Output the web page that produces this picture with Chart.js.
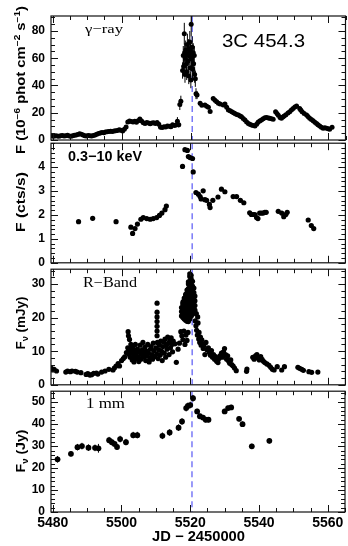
<!DOCTYPE html>
<html>
<head>
<meta charset="utf-8">
<script src="https://cdn.jsdelivr.net/npm/chart.js@4.4.1/dist/chart.umd.min.js"></script>
<style>
html, body { margin: 0; padding: 0; background: #fff; }
#wrap { position: relative; width: 348px; height: 546px; overflow: hidden; }
#wrap canvas { position: absolute; left: 0; }
</style>
</head>
<body>
<div id="wrap">
  <canvas id="gamma" width="348" height="160"></canvas>
  <canvas id="xray" width="348" height="146"></canvas>
  <canvas id="rband" width="348" height="142"></canvas>
  <canvas id="mm" width="348" height="168"></canvas>
</div>
<script>
// ---- data ----
const flareDay = 5520.5;
const xTickLabels = [5480, 5500, 5520, 5540, 5560];

// gamma-ray, 10^-6 phot cm^-2 s^-1
const gammaDays = [
  5479.8,5480.3,5480.8,5481.3,5481.8,5482.3,5482.8,5483.3,5483.8,5484.3,
  5484.8,5485.3,5485.8,5486.3,5486.8,5487.3,5487.8,5488.3,5488.8,5489.3,
  5489.8,5490.3,5490.8,5491.3,5491.8,5492.3,5492.8,5493.3,5493.8,5494.3,
  5494.8,5495.3,5495.8,5496.3,5496.8,5497.3,5497.8,5498.3,5498.8,5499.3,
  5499.8,5500.3,5500.8,5501.3,5501.8,5502.3,5502.8,5503.3,5503.8,5504.3,
  5504.8,5505.3,5505.8,5506.3,5506.8,5507.3,5507.8,5508.3,5508.8,5509.3,
  5509.8,5510.3,5510.8,5511.3,5511.8,5512.3,5512.8,5513.3,5513.8,5514.3,
  5514.8,5515.3,5515.8,
  5522.8,5523.3,5524.2,5524.7,5525.2,5525.7,5526.6,5527.1,5527.6,5528.1,
  5528.6,5529.5,5530.0,5530.5,5531.0,5531.5,5532.0,5532.5,5532.9,5533.4,
  5533.9,5534.4,5534.8,5535.3,5535.8,5536.3,5536.8,5537.2,5537.7,5538.2,
  5538.7,5539.2,5539.6,5540.1,5540.6,5541.1,5541.6,5542.1,5542.6,5543.0,
  5543.5,5544.0,5544.7,5545.1,5545.5,5546.0,5546.4,5546.8,5547.2,5547.7,
  5548.3,5548.8,5549.3,5549.8,5550.3,5550.8,5551.7,5552.0,5552.4,5553.0,
  5553.7,5554.1,5554.6,5555.1,5555.6,5556.1,5556.6,5557.0,5557.5,5558.0,
  5558.5,5559.0,5559.5,5560.0,5560.4,5561.1
];
const gammaFlux = [
  3.0,2.8,3.2,3.0,2.7,3.1,3.3,2.9,3.2,3.5,
  3.0,2.8,3.1,3.4,3.6,4.0,4.6,4.2,3.6,3.2,
  3.0,3.3,3.1,2.9,3.3,3.6,4.2,4.8,5.2,5.5,
  5.4,5.8,6.0,6.2,6.4,6.3,6.6,6.8,7.0,7.6,
  7.2,6.6,7.8,9.5,13.2,14.0,13.6,13.2,13.8,13.0,
  14.2,15.4,14.0,12.6,12.2,12.8,12.4,12.0,12.5,12.6,
  12.2,12.8,11.5,9.4,9.2,9.8,9.6,10.2,10.0,9.8,
  11.2,10.6,11.0,
  27,25.5,25.6,24.8,24,21,30.5,29.2,28,27,
  26.4,25.6,26.4,24,22,21.4,20.7,20,19.5,18.8,
  18.3,17.6,17,15.8,14.6,13.2,12.2,11.6,11,10.6,
  10.3,11.6,13,14,14.6,15.6,16.4,16.6,16.2,15.9,
  15.6,15.2,20.7,19.4,18.1,16.6,15.9,16.8,17.6,18.6,
  19.8,20.7,22,23.2,24.2,24.9,23.2,22,20.7,19.4,
  18.3,17.2,15.9,15,14.1,13,12.2,11.2,10.3,9.4,
  8.6,9,8.6,8.2,7.8,9.3
];
// flare points, drawn with their error bars
const flareDays = [
  5516.2,5516.6,5516.9,5517.2,5517.7,5517.9,5518.0,5518.2,5518.3,5518.4,
  5518.5,5518.6,5518.8,5518.9,5519.0,5519.1,5519.3,5519.4,5519.5,5519.6,
  5519.8,5519.9,5520.0,5520.1,5520.2,5520.3,5520.5,5520.6,5520.8,5520.9,
  5521.1,5521.2,5521.4,5521.6,5521.9
];
const flareFlux = [
  13.8,11.2,26.0,28.5,51,62,54,78,64,48,
  60,66,56,50,63,70,58,67,47,62,
  72,53,65,44,85,60,68,52,64,56,
  62,48,45,34,33
];
const flareErr = [
  3,2,4,4,6,7,6,8,7,6,
  7,7,6,6,7,8,7,7,6,7,
  8,6,7,6,9,7,8,7,7,7,
  7,6,6,4,3
];
const gammaTicks = [0, 20, 40, 60, 80];

// X-ray 0.3-10 keV, cts/s
const xrayDays = [
  5487.5,5491.6,5498.4,5502.7,5503.2,5503.9,5504.6,5505.6,5506.3,5507.3,
  5508.3,5509.2,5510.2,5511.0,5511.7,5512.6,5513.0,5517.7,5518.4,5519.1,
  5519.4,5519.9,5520.6,5520.8,5521.6,5522.3,5522.8,5523.1,5523.7,5524.2,
  5524.7,5525.5,5525.7,5526.5,5528.0,5529.0,5530.0,5532.4,5533.4,5534.5,
  5535.5,5537.2,5537.7,5538.2,5538.7,5539.2,5539.6,5540.1,5540.6,5541.1,
  5541.6,5542.0,5545.5,5546.5,5547.1,5547.7,5548.1,5554.2,5555.1,5555.8
];
const xrayRate = [
  1.72,1.86,1.72,1.49,1.23,1.43,1.62,1.82,1.89,1.85,
  1.82,1.85,1.89,1.98,2.08,2.22,2.37,4.03,4.73,4.70,
  4.44,4.40,4.36,3.80,2.94,2.87,2.77,2.67,3.01,2.64,
  2.61,2.44,2.31,2.61,2.75,3.08,2.97,2.77,2.77,2.61,
  2.51,2.09,2.02,2.02,2.02,1.89,1.85,2.08,2.08,2.08,
  2.11,2.11,2.15,2.08,1.93,2.02,2.11,1.79,1.56,1.43
];
const xrayTicks = [0, 1, 2, 3, 4];

// R band, mJy
const rDays = [
  5479.6,5480.0,5480.4,5481.1,5483.8,5484.3,5485.1,5485.6,5486.6,5487.1,
  5488.2,5489.7,5490.2,5490.8,5491.3,5491.9,5492.7,5493.1,5494.2,5495.2,
  5496.3,5497.5,5497.9,5498.4,5499.0,5499.4,
  5500.0,5500.5,5500.9,5501.4,5501.8,5501.9,5502.0,5502.3,5502.1,5502.2,
  5502.5,5502.7,5502.8,5503.0,5503.1,5503.3,5503.5,5503.6,5503.8,5504.0,
  5504.2,5504.3,5504.6,5504.8,5505.0,5505.2,5505.4,5505.6,5505.8,5506.0,
  5506.2,5506.4,5506.6,5506.8,5507.0,5507.2,5507.4,5507.6,5507.8,5508.0,
  5508.2,5508.4,5508.6,5508.8,5509.0,5509.2,5509.4,5509.6,
  5510.3,5510.3,5510.3,5510.3,5510.3,5510.3,5510.3,
  5510.0,5510.2,5510.4,5510.6,5510.8,5511.0,5511.2,5511.4,5511.6,5511.8,
  5512.0,5512.2,5512.4,5512.6,5512.8,5513.0,5513.2,5513.4,5513.6,5513.8,
  5514.0,5514.2,5514.4,5514.6,5514.8,5515.0,5515.5,5515.9,5516.4,5516.8,
  5517.2,5517.5,5517.8,5518.1,5518.4,5518.7,5519.0,5519.3,
  5517.4,5517.4,5517.4,
  5517.8,5517.8,5517.8,5517.8,5517.8,
  5518.2,5518.2,5518.2,5518.2,5518.2,5518.2,
  5518.6,5518.6,5518.6,5518.6,5518.6,5518.6,5518.6,
  5519.0,5519.0,5519.0,5519.0,5519.0,5519.0,5519.0,5519.0,
  5519.4,5519.4,5519.4,5519.4,5519.4,5519.4,5519.4,5519.4,5519.4,5519.4,
  5519.8,5519.8,5519.8,5519.8,5519.8,5519.8,5519.8,5519.8,5519.8,5519.8,5519.8,
  5520.2,5520.2,5520.2,5520.2,5520.2,5520.2,5520.2,5520.2,5520.2,5520.2,
  5520.6,5520.6,5520.6,5520.6,5520.6,5520.6,5520.6,5520.6,
  5521.0,5521.0,5521.0,5521.0,5521.0,5521.0,
  5521.3,5521.3,5521.3,5521.3,
  5521.4,5521.6,5521.7,5521.8,5522.0,5522.1,5522.2,5522.4,5522.5,5522.7,
  5522.9,5523.1,5523.3,5523.5,5523.7,5523.9,5524.2,5524.5,5524.8,5525.2,
  5525.5,5525.8,5526.1,5526.4,5526.7,5527.0,5527.3,5527.6,5528.0,5528.3,
  5528.6,5529.0,5529.3,5529.6,5529.9,5530.2,5530.5,5530.8,5531.1,5531.4,
  5531.7,5532.0,5532.4,5532.8,5533.3,5536.3,5536.4,5538.1,5538.5,5538.9,
  5539.3,5539.6,5540.0,5540.4,5540.8,5541.2,5541.6,5542.2,5542.8,5543.3,
  5543.8,5544.3,5545.2,5546.5,5547.3,5551.2,5551.7,5552.3,5552.8,5554.4,
  5555.2,5557.0
];
const rFlux = [
  4.9,4.4,4.6,4.1,3.8,4.1,3.9,4.1,4.0,3.8,
  3.6,3.1,3.3,2.9,3.0,3.4,3.5,3.2,3.8,4.1,
  4.6,4.4,5.0,5.6,6.3,5.6,
  7.2,7.8,8.3,9.6,11.0,15.8,14.6,13.5,10.2,9.0,
  8.2,12.0,10.8,9.6,7.4,11.2,8.6,6.8,10.0,12.0,
  9.2,7.8,10.6,8.4,6.9,9.8,11.8,7.6,9.0,10.4,
  12.6,8.2,9.6,11.2,7.2,10.0,8.6,12.0,9.4,6.8,
  8.0,10.6,11.4,9.0,7.6,12.4,10.2,8.4,
  24.3,21.6,20.2,18.8,17.4,16.0,14.6,
  11.0,9.2,12.6,7.8,10.4,11.8,8.8,13.0,10.0,7.2,
  11.4,12.8,9.4,13.6,8.2,11.8,10.6,14.2,12.4,9.0,
  13.2,11.0,14.0,12.0,9.8,13.0,12.2,6.7,10.6,12.4,
  15.8,14.6,13.4,16.0,12.0,14.8,13.2,15.6,
  20.5,21.8,23.0,
  20.0,21.3,22.6,24.0,24.6,
  19.6,21.0,22.4,23.8,25.2,25.8,
  19.2,20.6,22.0,23.4,24.8,26.2,26.9,
  18.9,20.3,21.7,23.1,24.5,25.9,27.3,28.2,
  18.8,20.2,21.6,23.0,24.4,25.8,27.2,28.6,30.0,30.6,
  19.6,21.0,22.4,23.8,25.2,26.6,28.0,29.4,30.8,32.2,33.0,
  20.4,21.8,23.2,24.6,26.0,27.4,28.8,30.2,31.6,32.6,
  21.0,22.4,23.8,25.2,26.6,28.0,29.4,30.8,
  21.8,23.2,24.6,26.0,27.4,28.8,
  22.2,23.6,25.0,26.4,
  19.0,17.6,21.2,16.2,14.8,20.2,18.4,13.6,15.6,12.6,
  14.2,11.8,13.4,12.2,10.8,11.6,9.0,12.6,10.4,11.0,
  9.6,8.8,10.2,8.2,9.0,7.6,8.4,7.0,6.6,7.8,
  8.6,9.4,8.2,9.8,10.8,9.0,7.6,8.6,7.0,6.4,
  7.4,6.0,5.6,5.0,4.2,4.0,4.7,8.2,7.6,8.6,
  9.0,8.0,7.4,8.4,7.6,7.0,6.6,6.2,5.8,5.2,
  4.6,4.4,5.4,4.4,5.4,5.2,4.9,4.6,4.3,3.9,
  3.7,3.8
];
const rTicks = [0, 10, 20, 30];

// 1 mm, Jy
const mmDays = [
  5481.4,5485.3,5487.2,5488.5,5490.4,5492.3,5493.3,5496.4,5497.2,5498.0,
  5498.7,5499.6,5501.3,5503.4,5504.6,5511.9,5514.0,5516.6,5517.6,5518.8,
  5519.3,5520.0,5520.8,5522.0,5522.8,5523.7,5524.5,5525.3,5530.0,5531.0,
  5531.9,5534.2,5535.2,5537.9,5543.0
];
const mmFlux = [
  24.0,26.5,29.5,30.0,29.3,29.2,29.0,32.7,31.8,31.0,
  29.6,33.2,31.8,35.0,35.0,34.7,36.2,38.4,41.2,47.3,
  48.3,48.7,51.8,45.8,43.6,43.0,42.0,42.0,45.8,47.3,
  47.6,42.4,40.0,29.9,32.4
];
const mmErr = [
  1.5,1.2,1.5,1.5,1.5,1.5,2.0,1.5,1.5,1.2,
  1.2,1.5,1.5,1.5,1.5,1.5,1.5,1.5,1.5,1.5,
  1.5,1.5,1.5,1.2,1.2,1.2,1.2,1.2,1.2,1.2,
  1.2,1.2,1.2,1.2,1.2
];
const mmTicks = [0, 10, 20, 30, 40, 50];

// ---- drawing ----
Chart.defaults.font.family = 'Liberation Sans';
Chart.defaults.color = '#000';

function onStep(v, step) {
  const r = v / step;
  return Math.abs(r - Math.round(r)) < 1e-6;
}
function hasValue(list, v) {
  return list.some(t => Math.abs(t - v) < 1e-6);
}

function drawText(ctx, L, yOff) {
  ctx.save();
  ctx.translate(L.x, L.y - yOff);
  if (L.rot) ctx.rotate(-Math.PI / 2);
  const fam = L.family || 'Liberation Sans';
  const wt = L.weight || 'normal';
  const parts = L.segs.map(([s, k]) => {
    const sz = k ? L.size * 0.68 : L.size;
    ctx.font = `${wt} ${sz}px "${fam}"`;
    return { s, k, sz, w: ctx.measureText(s).width };
  });
  const natural = parts.reduce((a, p) => a + p.w, 0);
  if (L.w) ctx.scale(L.w / natural, 1);
  let cx = L.center ? -natural / 2 : 0;
  ctx.fillStyle = '#000';
  ctx.textBaseline = 'alphabetic';
  ctx.textAlign = 'left';
  parts.forEach(p => {
    ctx.font = `${wt} ${p.sz}px "${fam}"`;
    const dy = p.k === 'sup' ? -L.size * 0.42 : p.k === 'sub' ? L.size * 0.28 : 0;
    ctx.fillText(p.s, cx, dy);
    cx += p.w;
  });
  ctx.restore();
}

const panelDeco = {
  id: 'panelDeco',
  beforeDatasetsDraw(chart, args, o) {
    const { ctx, chartArea: a, scales } = chart;
    ctx.save();
    ctx.beginPath();
    ctx.rect(a.left, a.top, a.right - a.left, a.bottom - a.top);
    ctx.clip();
    // vertical marker at the flare peak
    const fx = scales.x.getPixelForValue(flareDay);
    ctx.strokeStyle = 'rgba(95,95,245,0.9)';
    ctx.lineWidth = 1.4;
    ctx.setLineDash([6, 4]);
    ctx.beginPath();
    ctx.moveTo(fx, a.top);
    ctx.lineTo(fx, a.bottom);
    ctx.stroke();
    ctx.setLineDash([]);
    // error bars
    ctx.strokeStyle = '#000';
    ctx.lineWidth = 1;
    chart.data.datasets.forEach(ds => {
      if (!ds.yErr) return;
      ds.data.forEach((p, j) => {
        const e = ds.yErr[j];
        const px = scales.x.getPixelForValue(p.x);
        ctx.beginPath();
        ctx.moveTo(px, scales.y.getPixelForValue(p.y - e));
        ctx.lineTo(px, scales.y.getPixelForValue(p.y + e));
        ctx.stroke();
      });
    });
    ctx.restore();
  },
  afterDraw(chart, args, o) {
    const { ctx, chartArea: a, scales } = chart;
    const xs = scales.x, ys = scales.y;
    ctx.save();
    ctx.strokeStyle = '#111';
    ctx.lineWidth = 1.2;
    ctx.strokeRect(a.left, a.top, a.right - a.left, a.bottom - a.top);
    ctx.lineWidth = 1;
    ctx.beginPath();
    xs.ticks.forEach(t => {
      if (!onStep(t.value, 5)) return;
      const len = hasValue(xTickLabels, t.value) ? 7 : 4;
      const px = Math.round(xs.getPixelForValue(t.value)) + 0.5;
      ctx.moveTo(px, a.bottom); ctx.lineTo(px, a.bottom - len);
      ctx.moveTo(px, a.top); ctx.lineTo(px, a.top + len);
    });
    ys.ticks.forEach(t => {
      if (!onStep(t.value, o.yMinor)) return;
      const len = hasValue(o.yLabels, t.value) ? 7 : 4;
      const py = Math.round(ys.getPixelForValue(t.value)) + 0.5;
      ctx.moveTo(a.left, py); ctx.lineTo(a.left + len, py);
      ctx.moveTo(a.right, py); ctx.lineTo(a.right - len, py);
    });
    ctx.stroke();
    ctx.restore();
    (o.texts || []).forEach(L => drawText(ctx, L, o.top));
  }
};

function pts(xs, ys) {
  return xs.map((x, i) => ({ x, y: ys[i] }));
}

function makePanel(id, cfg) {
  const canvas = document.getElementById(id);
  canvas.style.top = cfg.top + 'px';
  return new Chart(canvas, {
    type: 'scatter',
    data: {
      datasets: cfg.series.map(s => ({
        data: pts(s.x, s.y),
        yErr: s.err,
        pointRadius: s.r,
        pointHoverRadius: s.r,
        pointBackgroundColor: '#000',
        pointBorderWidth: 0,
        showLine: false
      }))
    },
    options: {
      responsive: false,
      animation: false,
      devicePixelRatio: 1,
      layout: { padding: { top: cfg.padTop, bottom: cfg.padBottom, left: 0, right: 2 } },
      plugins: {
        legend: { display: false },
        tooltip: { enabled: false },
        panelDeco: { top: cfg.top, yMinor: cfg.yMinor, yLabels: cfg.yLabels, texts: cfg.texts }
      },
      scales: {
        x: {
          type: 'linear',
          min: 5479.5,
          max: 5565,
          grid: { display: false, drawTicks: false },
          border: { display: false },
          ticks: {
            display: cfg.xLabels,
            stepSize: 5,
            includeBounds: false,
            autoSkip: false,
            maxRotation: 0,
            padding: 3,
            color: '#000',
            font: { size: 14, weight: 'bold' },
            callback: v => hasValue(xTickLabels, v) ? String(Math.round(v)) : ''
          },
          afterFit: s => { s.height = cfg.xHeight; }
        },
        y: {
          min: 0,
          max: cfg.yMax,
          grid: { display: false, drawTicks: false },
          border: { display: false },
          ticks: {
            stepSize: cfg.yMinor,
            includeBounds: false,
            autoSkip: false,
            padding: 6,
            color: '#000',
            font: { size: 12, weight: 'bold' },
            callback: v => hasValue(cfg.yLabels, v) ? String(Math.round(v)) : ''
          },
          afterFit: s => { s.width = 51; }
        }
      }
    },
    plugins: [panelDeco]
  });
}

makePanel('gamma', {
  top: 0, padTop: 16, padBottom: 20, xHeight: 0, xLabels: false,
  yMax: 91, yMinor: 5, yLabels: gammaTicks,
  series: [
    { x: gammaDays, y: gammaFlux, r: 2.5 },
    { x: flareDays, y: flareFlux, err: flareErr, r: 2.5 }
  ],
  texts: [
    { segs: [['γ−ray']], x: 85, y: 33, size: 13, w: 38, family: 'Liberation Serif' },
    { segs: [['3C 454.3']], x: 222, y: 47, size: 19, w: 83 },
    { segs: [['F (10'], ['−6', 'sup'], [' phot cm'], ['−2', 'sup'], [' s'], ['−1', 'sup'], [')']],
      x: 25, y: 80, size: 12, w: 148, rot: true, center: true, weight: 'bold' }
  ]
});

makePanel('xray', {
  top: 130, padTop: 10, padBottom: 10, xHeight: 0, xLabels: false,
  yMax: 5, yMinor: 0.2, yLabels: xrayTicks,
  series: [{ x: xrayDays, y: xrayRate, r: 2.6 }],
  texts: [
    { segs: [['0.3−10 keV']], x: 68, y: 160.5, size: 14, w: 74, weight: 'bold' },
    { segs: [['F (cts/s)']], x: 25, y: 202, size: 12, w: 60, rot: true, center: true, weight: 'bold' }
  ]
});

makePanel('rband', {
  top: 256, padTop: 10, padBottom: 10, xHeight: 0, xLabels: false,
  yMax: 34.4, yMinor: 2, yLabels: rTicks,
  series: [{ x: rDays, y: rFlux, r: 2.6 }],
  texts: [
    { segs: [['R−Band']], x: 83, y: 287, size: 14, w: 54, family: 'Liberation Serif' },
    { segs: [['F'], ['ν', 'sub'], [' (mJy)']], x: 25, y: 323, size: 12, w: 53, rot: true, center: true, weight: 'bold' }
  ]
});

makePanel('mm', {
  top: 378, padTop: 10, padBottom: 0, xHeight: 34, xLabels: true,
  yMax: 55, yMinor: 2, yLabels: mmTicks,
  series: [{ x: mmDays, y: mmFlux, err: mmErr, r: 2.9 }],
  texts: [
    { segs: [['1 mm']], x: 86, y: 408, size: 14, w: 39, family: 'Liberation Serif' },
    { segs: [['F'], ['ν', 'sub'], [' (Jy)']], x: 25, y: 451, size: 12, w: 43, rot: true, center: true, weight: 'bold' },
    { segs: [['JD − 2450000']], x: 152, y: 541, size: 14, w: 93, weight: 'bold' }
  ]
});
</script>
</body>
</html>
